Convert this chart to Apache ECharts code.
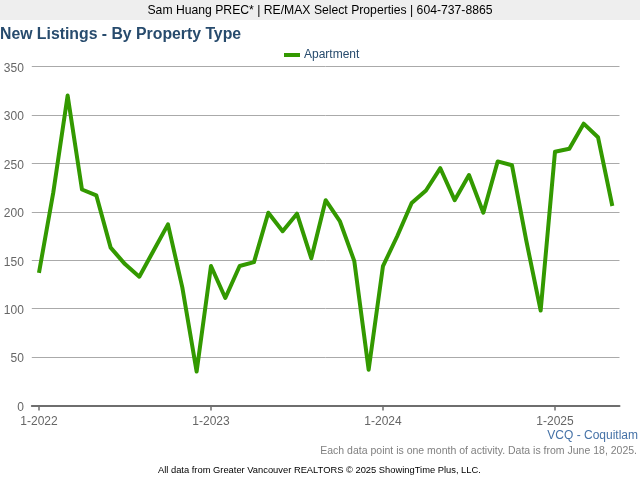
<!DOCTYPE html>
<html><head><meta charset="utf-8">
<style>html,body{margin:0;padding:0;background:#fff}#c{width:640px;height:480px}</style>
<script src="https://cdn.jsdelivr.net/npm/echarts@6/dist/echarts.min.js"></script>
</head><body><div id="c"></div>
<script>
const months = ["1-2022","2-2022","3-2022","4-2022","5-2022","6-2022","7-2022","8-2022","9-2022","10-2022","11-2022","12-2022",
"1-2023","2-2023","3-2023","4-2023","5-2023","6-2023","7-2023","8-2023","9-2023","10-2023","11-2023","12-2023",
"1-2024","2-2024","3-2024","4-2024","5-2024","6-2024","7-2024","8-2024","9-2024","10-2024","11-2024","12-2024",
"1-2025","2-2025","3-2025","4-2025","5-2025"];
const apartment = [137,220,320,223,217,163,146,133,160,187,122,35,
144,111,144,148,199,180,198,152,212,190,149,37,
144,175,209,222,245,212,238,199,252,248,170,98,
262,265,291,277,206];
const font = "Liberation Sans";
const chart = echarts.init(document.getElementById('c'), null, {renderer:'canvas'});
chart.setOption({
  animation:false,
  backgroundColor:'#fff',
  graphic:[{type:'rect',silent:true,z:-1,shape:{x:0,y:0,width:640,height:20},style:{fill:'#eeeeee'}}],
  title:[
    {text:"Sam Huang PREC* | RE/MAX Select Properties | 604-737-8865",left:320,top:5,padding:0,textAlign:'center',textStyle:{fontFamily:font,fontSize:12.2,fontWeight:'normal',color:'#000'}},
    {text:"New Listings - By Property Type",left:0,top:27,padding:0,textStyle:{fontFamily:font,fontSize:15.8,fontWeight:'bold',color:'#274b6d'}},
    {text:"VCQ - Coquitlam",right:2,top:430,padding:0,textStyle:{fontFamily:font,fontSize:12,fontWeight:'normal',color:'#4572a7'}},
    {text:"Each data point is one month of activity. Data is from June 18, 2025.",right:3,top:446,padding:0,textStyle:{fontFamily:font,fontSize:10.5,fontWeight:'normal',color:'#808080'}},
    {text:"All data from Greater Vancouver REALTORS © 2025 ShowingTime Plus, LLC.",left:158,top:466,padding:0,textStyle:{fontFamily:font,fontSize:9.35,fontWeight:'normal',color:'#000'}}
  ],
  legend:{show:true,top:49,left:284,padding:0,itemWidth:16,itemHeight:4,icon:'rect',itemGap:4,data:['Apartment'],
    textStyle:{fontFamily:font,fontSize:12,color:'#274b6d',padding:[0,0,0,-1]}},
  grid:{left:31.8,right:20.5,top:66.5,bottom:74.5,containLabel:false},
  xAxis:{type:'category',data:months,boundaryGap:true,
    axisLine:{show:true,lineStyle:{color:'#6e6e6e',width:2}},
    axisTick:{show:true,alignWithLabel:true,interval:11,length:5,lineStyle:{color:'#6e6e6e',width:1.5}},
    axisLabel:{interval:11,margin:10,hideOverlap:false,fontFamily:font,fontSize:12,color:'#666'},
    splitLine:{show:false}},
  yAxis:{type:'value',min:0,max:350,interval:50,
    axisLine:{show:false},axisTick:{show:false},
    axisLabel:{margin:8,formatter:'{a|{value}}',
      rich:{a:{padding:[4,0,0,0],fontFamily:font,fontSize:12,color:'#666'}},
      fontFamily:font,fontSize:12,color:'#666'},
    splitLine:{show:true,lineStyle:{color:'#aaaaaa',width:1}}},
  series:[{name:'Apartment',type:'line',data:apartment,showSymbol:false,symbol:'none',smooth:false,
    lineStyle:{color:'#339900',width:4,join:'round'},itemStyle:{color:'#339900'}}]
});
</script></body></html>
